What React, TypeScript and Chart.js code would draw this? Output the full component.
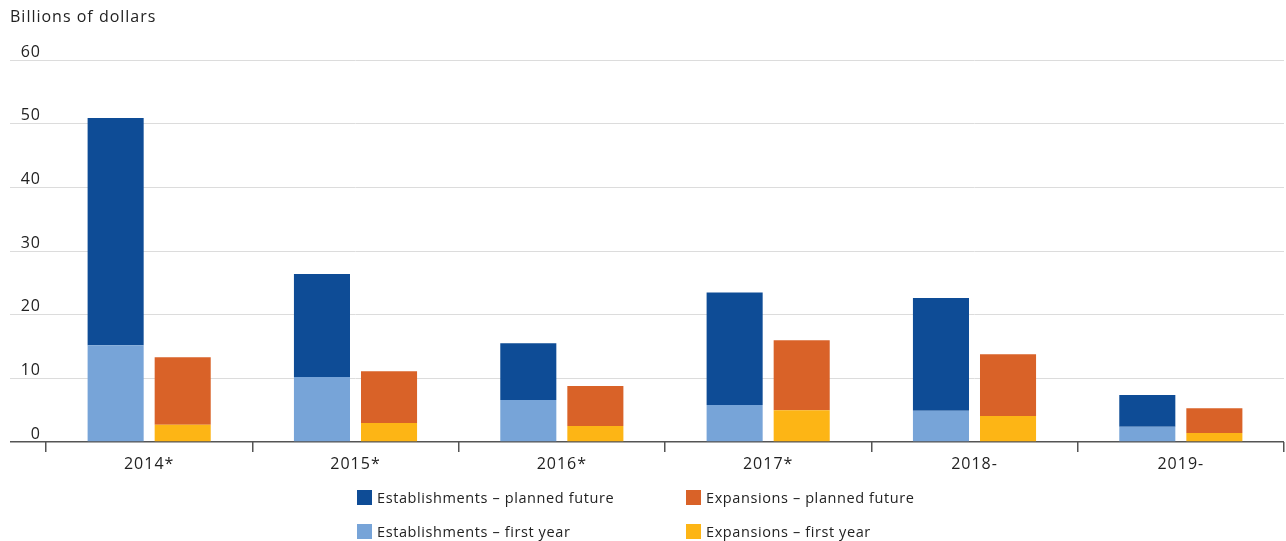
import React, { useEffect, useRef } from "react";
import { Chart, registerables } from "chart.js";

Chart.register(...registerables);

const categories = ["2014*", "2015*", "2016*", "2017*", "2018-", "2019-"];
const estFirstYear = [15.2, 10.2, 6.6, 5.8, 4.9, 2.4];
const estPlannedFuture = [35.7, 16.2, 8.9, 17.7, 17.7, 5.0];
const expFirstYear = [2.7, 3.0, 2.5, 5.0, 4.1, 1.4];
const expPlannedFuture = [10.6, 8.1, 6.3, 11.0, 9.7, 3.9];

const COLORS = {
  estPlanned: "#0E4C96",
  estFirst: "#77A4D8",
  expPlanned: "#D96228",
  expFirst: "#FDB515",
};

const legendItems = [
  { label: "Establishments – planned future", color: COLORS.estPlanned, left: 357, top: 497 },
  { label: "Expansions – planned future", color: COLORS.expPlanned, left: 686, top: 497 },
  { label: "Establishments – first year", color: COLORS.estFirst, left: 357, top: 531 },
  { label: "Expansions – first year", color: COLORS.expFirst, left: 686, top: 531 },
];

const FONT = "'Open Sans', 'DejaVu Sans', sans-serif";

const spacingPlugin = {
  id: "letterSpacing",
  beforeUpdate(chart: any) {
    try { chart.ctx.letterSpacing = "1px"; } catch (e) {}
  },
  beforeDraw(chart: any) {
    try { chart.ctx.letterSpacing = "1px"; } catch (e) {}
  },
};

export default function App() {
  const ref = useRef<HTMLCanvasElement | null>(null);

  useEffect(() => {
    if (!ref.current) return;
    const chart = new Chart(ref.current, {
      type: "bar",
      data: {
        labels: categories,
        datasets: [
          { label: "Establishments – first year", data: estFirstYear, backgroundColor: COLORS.estFirst, stack: "est" },
          { label: "Establishments – planned future", data: estPlannedFuture, backgroundColor: COLORS.estPlanned, stack: "est" },
          { label: "Expansions – first year", data: expFirstYear, backgroundColor: COLORS.expFirst, stack: "exp" },
          { label: "Expansions – planned future", data: expPlannedFuture, backgroundColor: COLORS.expPlanned, stack: "exp" },
        ],
      },
      plugins: [spacingPlugin],
      options: {
        responsive: false,
        animation: false,
        categoryPercentage: 0.65,
        barPercentage: 0.836,
        layout: { padding: { left: 10, right: 2, top: 0, bottom: 0 } },
        plugins: {
          legend: { display: false },
          tooltip: { enabled: false },
          title: {
            display: true,
            text: "Billions of dollars",
            align: "start",
            color: "#222",
            font: { family: FONT, size: 16, weight: "normal", lineHeight: 1.125 },
            padding: { top: 8, bottom: 34 },
          },
        },
        scales: {
          x: {
            stacked: true,
            border: { display: false },
            grid: {
              offset: true,
              drawOnChartArea: false,
              drawTicks: true,
              tickLength: 10,
              color: "#555",
              lineWidth: 1.5,
            },
            ticks: { color: "#222", font: { family: FONT, size: 16 }, padding: 3 },
            afterFit: (axis: any) => {
              axis.height = 99;
            },
          },
          y: {
            stacked: true,
            min: 0,
            max: 60,
            border: { display: false },
            grid: {
              drawTicks: true,
              tickLength: 36,
              color: (ctx: any) => (ctx.tick && ctx.tick.value === 0 ? "#555" : "#dcdcdc"),
              lineWidth: (ctx: any) => (ctx.tick && ctx.tick.value === 0 ? 1.5 : 1),
            },
            ticks: {
              stepSize: 10,
              color: "#222",
              font: { family: FONT, size: 16 },
              padding: -31,
              labelOffset: -8,
            },
            afterFit: (axis: any) => {
              axis.width = 36;
            },
          },
        },
      },
    });
    return () => chart.destroy();
  }, []);

  return (
    <div style={{ position: "fixed", left: 0, top: 0, width: 1286, height: 541, background: "#fff", overflow: "hidden" }}>
      <canvas ref={ref} width={1286} height={541} style={{ display: "block", width: 1286, height: 541 }} />
      {legendItems.map((it) => (
        <div
          key={it.label}
          style={{
            position: "absolute",
            left: it.left,
            top: it.top - 10,
            height: 20,
            display: "flex",
            alignItems: "center",
            fontFamily: FONT,
            fontSize: 14.5,
            letterSpacing: "0.6px",
            color: "#222",
            whiteSpace: "nowrap",
          }}
        >
          <span style={{ display: "inline-block", width: 15, height: 15, background: it.color, marginRight: 5 }} />
          <span>{it.label}</span>
        </div>
      ))}
    </div>
  );
}
